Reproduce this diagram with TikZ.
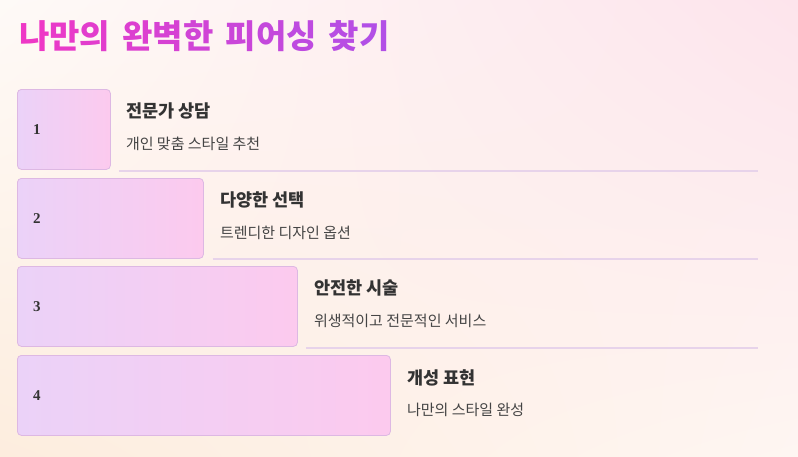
\documentclass[tikz,border=0pt]{standalone}
\usepackage{fontspec}
\usetikzlibrary{shadings}
\setmainfont{Liberation Serif}
\newfontfamily\kr{Noto Sans CJK KR}
\newfontfamily\krtitle{Noto Sans CJK KR}[LetterSpace=14]
\definecolor{titA}{HTML}{EE38C6}
\definecolor{titB}{HTML}{B24FE6}
\definecolor{boxL}{HTML}{EBD2F8}
\definecolor{boxR}{HTML}{FCCAEE}
\definecolor{boxline}{HTML}{DDB8E3}
\definecolor{sepline}{HTML}{E7D3EA}
\definecolor{headtext}{HTML}{333333}
\definecolor{subtext}{HTML}{444444}
\definecolor{bgUL}{HTML}{FEFAF7}
\definecolor{bgUR}{HTML}{FDE4EC}
\definecolor{bgLL}{HTML}{FDEDDE}
\definecolor{bgLR}{HTML}{FEF6F2}

\begin{document}
\begin{tikzpicture}[x=1pt, y=-1pt,
    box/.style={draw=boxline, line width=0.8pt, rounded corners=4pt, left color=boxL, right color=boxR, minimum height=80pt, anchor=north west, inner sep=0pt},
    num/.style={anchor=west, inner sep=0pt, text=headtext, font=\fontsize{15}{18}\selectfont\bfseries},
    head/.style={anchor=west, inner sep=0pt, text=headtext, font=\kr\fontsize{17.5}{20}\selectfont\bfseries},
    sub/.style={anchor=west, inner sep=0pt, text=subtext, font=\kr\fontsize{15}{18}\selectfont},
    sep/.style={draw=sepline, line width=1.5pt}]
    % Background
    \useasboundingbox (0,0) rectangle (798,456);
    \shade[upper left=bgUL, upper right=bgUR, lower left=bgLL, lower right=bgLR] (0,0) rectangle (798,456);

    % Title
    \node (title) [anchor=west, inner sep=0pt, font=\krtitle\fontsize{33}{39}\selectfont\bfseries] at (19,36)
        {{\color{titA!100!titB}나}{\color{titA!90!titB}만}{\color{titA!80!titB}의} {\color{titA!70!titB}완}{\color{titA!60!titB}벽}{\color{titA!50!titB}한} {\color{titA!40!titB}피}{\color{titA!30!titB}어}{\color{titA!20!titB}싱} {\color{titA!10!titB}찾}{\color{titA!0!titB}기}};

    % Nodes
    \node (b1) [box, minimum width=93pt] at (17,89) {};
    \node (b2) [box, minimum width=186pt] at (17,178) {};
    \node (b3) [box, minimum width=280pt] at (17,266) {};
    \node (b4) [box, minimum width=373pt] at (17,355) {};

    \node (n1) [num] at ([xshift=16pt]b1.west) {1};
    \node (n2) [num] at ([xshift=16pt]b2.west) {2};
    \node (n3) [num] at ([xshift=16pt]b3.west) {3};
    \node (n4) [num] at ([xshift=16pt]b4.west) {4};

    \node (h1) [head] at ([xshift=15pt, yshift=18pt]b1.east) {전문가 상담};
    \node (s1) [sub] at ([xshift=15pt, yshift=-14pt]b1.east) {개인 맞춤 스타일 추천};
    \node (h2) [head] at ([xshift=16pt, yshift=18pt]b2.east) {다양한 선택};
    \node (s2) [sub] at ([xshift=16pt, yshift=-14pt]b2.east) {트렌디한 디자인 옵션};
    \node (h3) [head] at ([xshift=16pt, yshift=18pt]b3.east) {안전한 시술};
    \node (s3) [sub] at ([xshift=16pt, yshift=-14pt]b3.east) {위생적이고 전문적인 서비스};
    \node (h4) [head] at ([xshift=16pt, yshift=17pt]b4.east) {개성 표현};
    \node (s4) [sub] at ([xshift=16pt, yshift=-14pt]b4.east) {나만의 스타일 완성};

    % Separator lines
    \coordinate (r) at (758,0);
    \draw[sep] ([xshift=8pt, yshift=-1pt]b1.south east) -- ([yshift=-1pt]b1.south east -| r);
    \draw[sep] ([xshift=9pt]b2.south east) -- (b2.south east -| r);
    \draw[sep] ([xshift=8pt, yshift=-1pt]b3.south east) -- ([yshift=-1pt]b3.south east -| r);
\end{tikzpicture}
\end{document}
